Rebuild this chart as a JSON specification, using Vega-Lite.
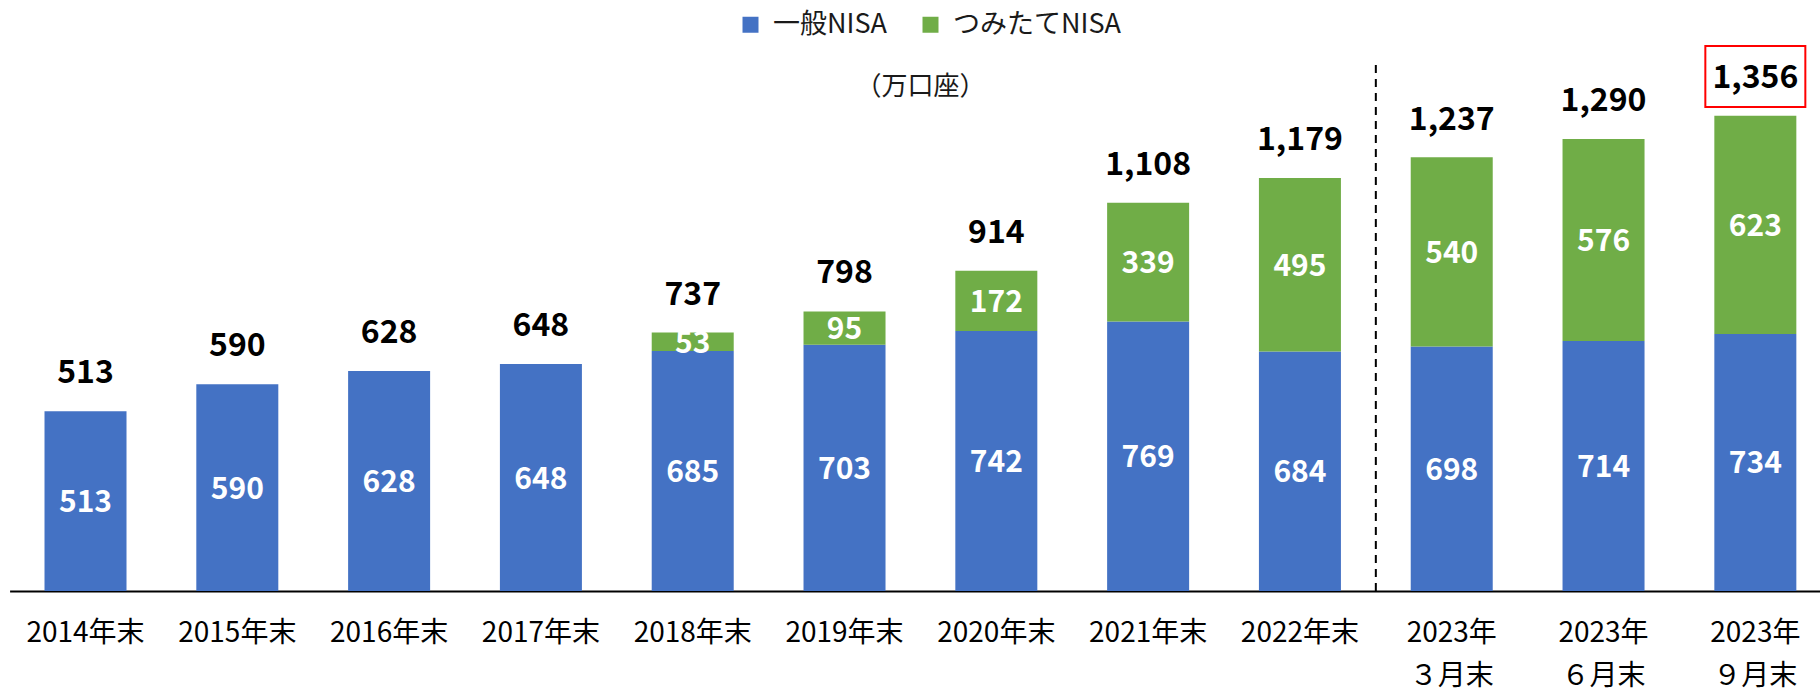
{
  "$schema": "https://vega.github.io/schema/vega-lite/v6.json",
  "autosize": {"type": "none"},
  "padding": {"left": 9.6, "top": 10, "right": 0, "bottom": 101},
  "width": 1810.4,
  "height": 581,
  "config": {
    "view": {"stroke": null},
    "font": "Noto Sans CJK JP",
    "text": {"font": "Noto Sans CJK JP"}
  },
  "datasets": {
    "segs": [
      {"cat": "2014年末", "type": "一般NISA", "value": 513},
      {"cat": "2015年末", "type": "一般NISA", "value": 590},
      {"cat": "2016年末", "type": "一般NISA", "value": 628},
      {"cat": "2017年末", "type": "一般NISA", "value": 648},
      {"cat": "2018年末", "type": "一般NISA", "value": 685},
      {"cat": "2018年末", "type": "つみたてNISA", "value": 53},
      {"cat": "2019年末", "type": "一般NISA", "value": 703},
      {"cat": "2019年末", "type": "つみたてNISA", "value": 95},
      {"cat": "2020年末", "type": "一般NISA", "value": 742},
      {"cat": "2020年末", "type": "つみたてNISA", "value": 172},
      {"cat": "2021年末", "type": "一般NISA", "value": 769},
      {"cat": "2021年末", "type": "つみたてNISA", "value": 339},
      {"cat": "2022年末", "type": "一般NISA", "value": 684},
      {"cat": "2022年末", "type": "つみたてNISA", "value": 495},
      {"cat": "2023年|３月末", "type": "一般NISA", "value": 698},
      {"cat": "2023年|３月末", "type": "つみたてNISA", "value": 540},
      {"cat": "2023年|６月末", "type": "一般NISA", "value": 714},
      {"cat": "2023年|６月末", "type": "つみたてNISA", "value": 576},
      {"cat": "2023年|９月末", "type": "一般NISA", "value": 734},
      {"cat": "2023年|９月末", "type": "つみたてNISA", "value": 623}
    ],
    "totals": [
      {"cat": "2014年末", "total": 513},
      {"cat": "2015年末", "total": 590},
      {"cat": "2016年末", "total": 628},
      {"cat": "2017年末", "total": 648},
      {"cat": "2018年末", "total": 737},
      {"cat": "2019年末", "total": 798},
      {"cat": "2020年末", "total": 914},
      {"cat": "2021年末", "total": 1108},
      {"cat": "2022年末", "total": 1179},
      {"cat": "2023年|３月末", "total": 1237},
      {"cat": "2023年|６月末", "total": 1290},
      {"cat": "2023年|９月末", "total": 1356}
    ],
    "unit": [{"label": "（万口座）"}],
    "one": [{"id": 1}]
  },
  "encoding": {
    "x": {
      "field": "cat",
      "type": "nominal",
      "scale": {
        "domain": ["2014年末", "2015年末", "2016年末", "2017年末", "2018年末", "2019年末", "2020年末", "2021年末", "2022年末", "2023年|３月末", "2023年|６月末", "2023年|９月末"],
        "paddingInner": 0.4598,
        "paddingOuter": 0.1929,
        "align": 0.596
      },
      "axis": {
        "title": null,
        "labelAngle": 0,
        "labelExpr": "split(datum.label, '|')",
        "labelFont": "Noto Sans CJK JP",
        "labelFontSize": 28,
        "labelColor": "#000000",
        "labelLineHeight": 43,
        "labelPadding": 28,
        "labelLimit": 300,
        "ticks": false,
        "domainColor": "#000000",
        "domainWidth": 2
      }
    }
  },
  "layer": [
    {
      "data": {"name": "segs"},
      "mark": {"type": "bar"},
      "encoding": {
        "y": {
          "field": "value",
          "type": "quantitative",
          "stack": "zero",
          "scale": {"domain": [0, 1658.6], "nice": false},
          "axis": null
        },
        "color": {
          "field": "type",
          "type": "nominal",
          "scale": {"domain": ["一般NISA", "つみたてNISA"], "range": ["#4472C4", "#70AD47"]},
          "legend": {
            "title": null,
            "orient": "none",
            "direction": "horizontal",
            "legendX": 727.4,
            "legendY": 1,
            "symbolType": "square",
            "symbolSize": 256,
            "symbolStrokeWidth": 0,
            "labelFont": "Noto Sans CJK JP",
            "labelFontSize": 27,
            "labelColor": "#1a1a1a",
            "labelOffset": 9,
            "labelLimit": 400,
            "columnPadding": 30,
            "padding": 0
          }
        },
        "order": {"field": "type", "sort": "descending"}
      }
    },
    {
      "data": {"name": "segs"},
      "transform": [
        {"stack": "value", "groupby": ["cat"], "sort": [{"field": "type", "order": "descending"}], "as": ["v0", "v1"]},
        {"fold": ["v0", "v1"], "as": ["k", "pos"]},
        {"aggregate": [{"op": "mean", "field": "pos", "as": "mid"}, {"op": "max", "field": "value", "as": "value"}], "groupby": ["cat", "type"]}
      ],
      "mark": {"type": "text", "color": "#ffffff", "fontSize": 30, "fontWeight": "bold", "baseline": "middle", "dy": 2},
      "encoding": {
        "y": {"field": "mid", "type": "quantitative", "stack": null},
        "text": {"field": "value", "type": "quantitative", "format": ","}
      }
    },
    {
      "data": {"name": "totals"},
      "mark": {"type": "text", "color": "#000000", "fontSize": 32, "fontWeight": "bold", "baseline": "alphabetic", "dy": -28},
      "encoding": {
        "y": {"field": "total", "type": "quantitative"},
        "text": {"field": "total", "type": "quantitative", "format": ","}
      }
    },
    {
      "data": {"name": "one"},
      "mark": {"type": "rule", "color": "#000000", "strokeWidth": 2, "strokeDash": [8, 6]},
      "encoding": {
        "x": {"datum": "2023年|３月末", "bandPosition": -0.4256},
        "y": {"datum": 0, "type": "quantitative"},
        "y2": {"datum": 1516}
      }
    },
    {
      "data": {"name": "unit"},
      "mark": {"type": "text", "color": "#1a1a1a", "fontSize": 26, "baseline": "middle", "align": "center"},
      "encoding": {
        "x": {"datum": "2020年末", "bandPosition": -0.4256},
        "y": {"datum": 1439, "type": "quantitative"},
        "text": {"field": "label"}
      }
    },
    {
      "data": {"name": "one"},
      "mark": {"type": "bar", "width": 100, "fill": null, "fillOpacity": 0, "stroke": "#ff0000", "strokeWidth": 2},
      "encoding": {
        "x": {"datum": "2023年|９月末"},
        "y": {"datum": 1382, "type": "quantitative"},
        "y2": {"datum": 1556}
      }
    }
  ]
}
